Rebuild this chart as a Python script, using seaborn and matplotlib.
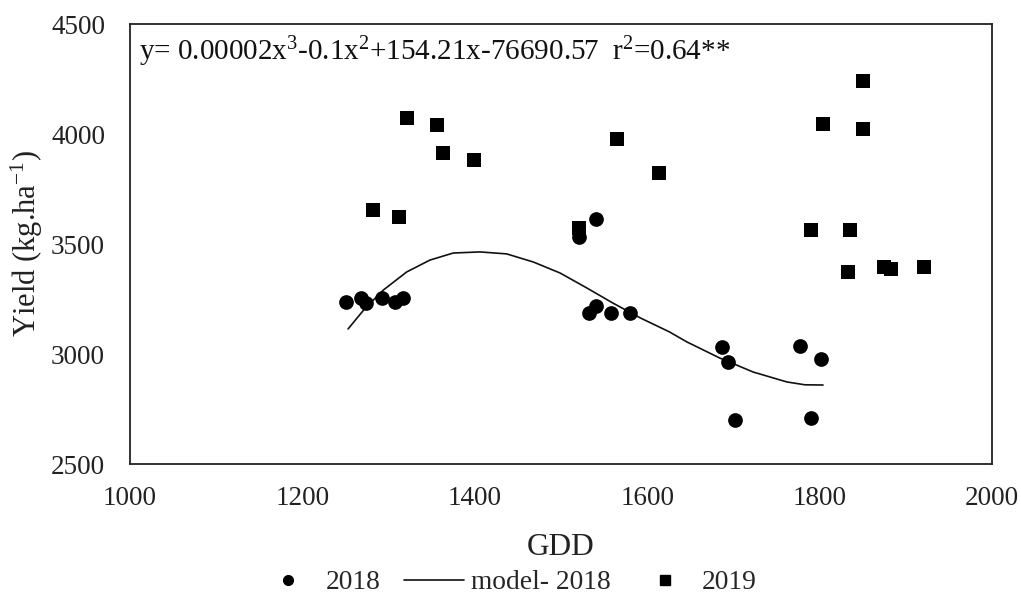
import matplotlib
matplotlib.use("Agg")
import matplotlib.pyplot as plt
import seaborn as sns
import pandas as pd
from matplotlib.lines import Line2D

# 2018 observations (GDD, yield)
gdd_2018 = [1251, 1268, 1274, 1292, 1307, 1317, 1521, 1541, 1532, 1541, 1558, 1580,
            1687, 1694, 1777, 1802, 1702, 1790]
yield_2018 = [3236, 3255, 3232, 3255, 3236, 3255, 3532, 3614, 3186, 3218, 3186, 3186,
              3032, 2964, 3036, 2977, 2700, 2709]

# 2019 observations
gdd_2019 = [1321, 1356, 1363, 1399, 1282, 1312, 1521, 1565, 1614, 1850, 1804, 1850,
            1790, 1835, 1833, 1875, 1883, 1921]
yield_2019 = [4073, 4041, 3914, 3882, 3655, 3623, 3573, 3977, 3823, 4241, 4045, 4023,
              3564, 3564, 3373, 3395, 3386, 3395]

# model curve for 2018
model_gdd = [1253, 1273, 1294, 1321, 1348, 1375, 1406, 1437, 1468, 1499, 1530, 1560,
             1592, 1626, 1646, 1684, 1723, 1762, 1783, 1804]
model_yield = [3114, 3209, 3291, 3373, 3427, 3459, 3464, 3455, 3418, 3368, 3300, 3232,
               3164, 3100, 3055, 2982, 2918, 2873, 2860, 2859]

x_ticks = [1000, 1200, 1400, 1600, 1800, 2000]
y_ticks = [2500, 3000, 3500, 4000, 4500]

equation = (r"y= 0.00002x$^\mathrm{3}$-0.1x$^\mathrm{2}$+154.21x-76690.57  "
            r"r$^\mathrm{2}$=0.64**")

sns.set_theme(style="white")
plt.rcParams["font.family"] = ["Liberation Serif", "DejaVu Serif"]
plt.rcParams["mathtext.fontset"] = "custom"
plt.rcParams["mathtext.rm"] = "Liberation Serif"
plt.rcParams["mathtext.it"] = "Liberation Serif:italic"

df18 = pd.DataFrame({"GDD": gdd_2018, "Yield": yield_2018})
df19 = pd.DataFrame({"GDD": gdd_2019, "Yield": yield_2019})
dfm = pd.DataFrame({"GDD": model_gdd, "Yield": model_yield})

fig = plt.figure(figsize=(10.21, 5.99), dpi=100)
ax = fig.add_axes([130 / 1021, 1 - 464 / 599, (992 - 130) / 1021, (464 - 24) / 599])

sns.lineplot(data=dfm, x="GDD", y="Yield", ax=ax, color="#111111", linewidth=1.2,
             sort=False, estimator=None)
sns.scatterplot(data=df18, x="GDD", y="Yield", ax=ax, marker="o", s=112,
                color="black", linewidth=0, zorder=3)
sns.scatterplot(data=df19, x="GDD", y="Yield", ax=ax, marker="s", s=98,
                color="black", linewidth=0, zorder=3)

ax.set_xlim(1000, 2000)
ax.set_ylim(2500, 4500)
ax.set_xticks(x_ticks)
ax.set_yticks(y_ticks)
ax.tick_params(axis="both", labelsize=19.5, length=0, colors="#222222")
ax.tick_params(axis="x", pad=16)
ax.tick_params(axis="y", pad=18)
for s in ax.spines.values():
    s.set_color("#222222")
    s.set_linewidth(1.3)

ax.set_xlabel("GDD", fontsize=22.5, color="#222222", labelpad=16)
ax.set_ylabel(r"Yield (kg.ha$^\mathrm{-1}$)", fontsize=22, color="#222222", labelpad=4)

ax.text(0.011, 0.975, equation, transform=ax.transAxes, ha="left", va="top",
        fontsize=21, color="#111111")

handles = [
    Line2D([], [], linestyle="none", marker="o", color="black", markersize=7),
    Line2D([], [], color="#111111", linewidth=1.2),
    Line2D([], [], linestyle="none", marker="s", color="black", markersize=7),
]
fig.legend(handles, ["2018", "model- 2018", "2019"], loc="lower center",
           bbox_to_anchor=(0.497, -0.035), ncol=3, frameon=False, fontsize=19.8,
           handlelength=2.2, handletextpad=0.25, columnspacing=0.85)

fig.savefig("out.png", dpi=100)
